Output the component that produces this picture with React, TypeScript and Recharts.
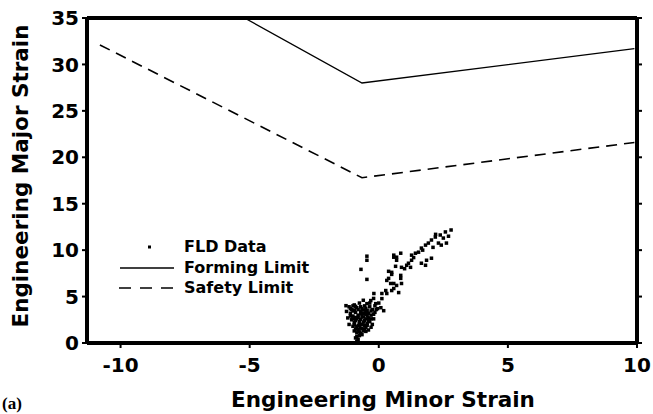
import React from 'react';
import { ScatterChart, Scatter, XAxis, YAxis, Legend } from 'recharts';

// minor strain (x) / major strain (y)
const formingLimitMinor = [-5.2, -0.65, 9.9];
const formingLimitMajor = [35, 28.0, 31.7];
const safetyLimitMinor = [-10.8, -0.65, 9.9];
const safetyLimitMajor = [32.1, 17.8, 21.6];

const fldPoints: [number, number][] = [
  // dense cluster near plane strain
  [-1.15, 3.9], [-1.05, 3.6], [-0.95, 4.1], [-0.85, 3.8], [-0.75, 4.3], [-0.65, 3.7], [-0.55, 4.0],
  [-0.45, 3.5], [-0.35, 3.9], [-0.25, 3.6], [-0.15, 3.3], [-1.1, 3.2], [-1.0, 2.9], [-0.9, 3.3],
  [-0.8, 3.0], [-0.7, 3.4], [-0.6, 2.8], [-0.5, 3.1], [-0.4, 2.7], [-0.3, 3.0], [-0.2, 2.6],
  [-1.05, 2.5], [-0.95, 2.2], [-0.85, 2.6], [-0.75, 2.3], [-0.65, 2.0], [-0.55, 2.4], [-0.45, 2.1],
  [-0.35, 2.3], [-1.0, 1.8], [-0.9, 1.5], [-0.8, 1.9], [-0.7, 1.6], [-0.6, 1.3], [-0.5, 1.7],
  [-0.4, 1.4], [-0.85, 1.1], [-0.75, 1.2], [-0.65, 0.9], [-0.85, 0.7], [-0.8, 0.4], [-0.85, 0.2],
  [-0.8, 0.0], [-1.2, 2.7], [-1.15, 2.0], [-0.25, 2.0], [-0.3, 1.7], [-0.95, 3.55], [-0.7, 3.9],
  [-0.5, 3.75], [-0.35, 4.3], [-0.15, 4.0], [-1.25, 3.4], [-0.6, 4.6], [-0.2, 4.8], [0.0, 4.3],
  [-0.05, 3.7], [-1.0, 3.45], [-0.6, 3.2], [-0.9, 2.75], [-0.55, 1.9],
  [-1.1, 3.7], [-1.0, 4.0], [-0.9, 3.95], [-0.8, 3.6], [-0.7, 3.15], [-0.6, 3.55], [-0.5, 3.4],
  [-0.4, 3.2], [-0.3, 3.45], [-0.2, 3.1], [-0.1, 3.6], [-1.1, 2.9], [-1.0, 2.6], [-0.9, 2.4],
  [-0.8, 2.75], [-0.7, 2.55], [-0.6, 2.25], [-0.5, 2.6], [-0.4, 2.45], [-0.3, 2.6], [-0.95, 1.95],
  [-0.85, 1.75], [-0.75, 1.85], [-0.65, 1.55], [-0.55, 1.5], [-0.45, 1.9], [-0.95, 1.3], [-0.7, 1.05],
  [-0.5, 1.25], [-0.8, 1.45], [-0.75, 0.8], [-0.9, 0.55], [-0.75, 2.05], [-0.65, 2.85], [-0.45, 2.95],
  // scattered outliers above the cluster
  [-0.46, 9.35], [-0.46, 8.91], [-0.69, 7.93], [-0.46, 6.85], [-1.27, 4.02], [-0.46, 4.24],
  // rising band
  [0.58, 9.46], [0.69, 9.24], [0.65, 8.26], [0.38, 7.72], [0.5, 7.39], [0.31, 6.74], [0.85, 6.96],
  [0.46, 6.41], [0.69, 6.2], [0.58, 5.87], [0.77, 5.43], [0.31, 5.33], [0.12, 4.78], [-0.19, 5.33],
  [-0.31, 4.57], [-0.12, 4.24], [0.08, 3.8], [0.19, 3.48],
  [2.58, 11.96], [2.38, 11.63], [2.19, 11.41], [2.04, 11.09], [1.92, 10.76], [1.81, 10.54],
  [1.65, 10.22], [1.54, 9.78], [1.42, 9.67], [1.27, 9.46], [1.27, 8.91], [1.15, 8.59], [1.23, 8.15],
  [1.08, 8.37], [1.65, 8.59], [1.85, 8.91], [2.04, 9.13], [2.31, 10.76], [2.62, 10.76], [2.42, 10.54],
  [1.81, 8.37], [0.85, 9.67], [0.58, 9.24], [0.69, 8.91], [0.88, 8.15], [0.5, 7.61], [0.38, 6.96],
  [0.85, 7.28], [0.58, 6.41], [0.88, 6.41], [0.27, 5.65], [0.5, 5.65], [0.12, 5.33], [2.8, 12.17],
  [2.2, 11.7], [2.5, 11.3], [1.7, 10.0], [1.0, 8.0], [1.35, 9.2], [2.1, 10.3], [2.7, 11.5],
];

const xTicks = [-10, -5, 0, 5, 10];
const yTicks = [0, 5, 10, 15, 20, 25, 30, 35];

const FONT = '"DejaVu Sans", sans-serif';

const fldData = fldPoints.map(([x, y]) => ({ x, y }));
const formingData = formingLimitMinor.map((x, i) => ({ x, y: formingLimitMajor[i] }));
const safetyData = safetyLimitMinor.map((x, i) => ({ x, y: safetyLimitMajor[i] }));

const axisLine = { stroke: '#000', strokeWidth: 4 };
const tickLine = { stroke: '#000', strokeWidth: 2 };
const tickStyle = { fill: '#000', fontSize: 20, fontWeight: 'bold', fontFamily: FONT };

const Dot = (props: any) => {
  const { cx, cy } = props;
  if (cx == null || cy == null) return <g />;
  return <rect x={cx - 1.75} y={cy - 1.75} width={3.5} height={3.5} fill="#000" />;
};

const legendItems = [
  { name: 'FLD Data', kind: 'dot' },
  { name: 'Forming Limit', kind: 'solid' },
  { name: 'Safety Limit', kind: 'dash' },
];

const LegendBox = () => (
  <div style={{ fontFamily: FONT, fontWeight: 'bold', fontSize: 16, color: '#000' }}>
    {legendItems.map(item => (
      <div key={item.name} style={{ display: 'flex', alignItems: 'center', height: 20.5 }}>
        <svg width={60} height={20} style={{ display: 'block' }}>
          {item.kind === 'dot' && <rect x={31} y={8.5} width={3} height={3} fill="#000" />}
          {item.kind === 'solid' && <line x1={3} x2={57} y1={10} y2={10} stroke="#000" strokeWidth={1.4} />}
          {item.kind === 'dash' && (
            <line x1={2} x2={57} y1={10} y2={10} stroke="#000" strokeWidth={1.4} strokeDasharray="12 9" />
          )}
        </svg>
        <span style={{ marginLeft: 7, lineHeight: '20px' }}>{item.name}</span>
      </div>
    ))}
  </div>
);

const App: React.FC = () => {
  return (
    <div style={{ position: 'absolute', left: 0, top: 0, width: 653, height: 414, background: '#fff' }}>
      <ScatterChart width={653} height={414} margin={{ top: 12, right: 6, bottom: 31, left: 27 }}>
        <XAxis
          dataKey="x"
          type="number"
          domain={[-11.3, 10]}
          ticks={xTicks}
          allowDataOverflow
          axisLine={axisLine}
          tickLine={tickLine}
          tickSize={5}
          tickMargin={10}
          tick={tickStyle}
          height={40}
        />
        <XAxis
          xAxisId="top"
          orientation="top"
          type="number"
          domain={[-11.3, 10]}
          ticks={xTicks}
          allowDataOverflow
          axisLine={axisLine}
          tickLine={tickLine}
          tickSize={5}
          tick={() => <g />}
          height={6}
        />
        <YAxis
          dataKey="y"
          type="number"
          domain={[0, 35]}
          ticks={yTicks}
          allowDataOverflow
          axisLine={axisLine}
          tickLine={tickLine}
          tickSize={5}
          tickMargin={3}
          tick={tickStyle}
          width={60}
        />
        <YAxis
          yAxisId="right"
          orientation="right"
          type="number"
          domain={[0, 35]}
          ticks={yTicks}
          allowDataOverflow
          axisLine={axisLine}
          tickLine={tickLine}
          tickSize={5}
          tick={() => <g />}
          width={10}
        />
        <Legend
          layout="vertical"
          align="center"
          verticalAlign="middle"
          wrapperStyle={{ left: 117, top: 237, width: 230 }}
          content={() => <LegendBox />}
        />
        <Scatter
          name="Forming Limit"
          data={formingData}
          line={{ stroke: '#000', strokeWidth: 1.3 }}
          shape={() => <g />}
          isAnimationActive={false}
        />
        <Scatter
          name="Safety Limit"
          data={safetyData}
          line={{ stroke: '#000', strokeWidth: 1.6, strokeDasharray: '11 7' }}
          shape={() => <g />}
          isAnimationActive={false}
        />
        <Scatter name="FLD Data" data={fldData} shape={Dot} isAnimationActive={false} />
      </ScatterChart>
      <div
        style={{
          position: 'absolute', left: -149, top: 164, width: 340, height: 24, lineHeight: '24px',
          textAlign: 'center', transform: 'rotate(-90deg)', fontFamily: FONT, fontWeight: 'bold', fontSize: 21.5,
        }}
      >
        Engineering Major Strain
      </div>
      <div
        style={{
          position: 'absolute', left: 183, top: 388, width: 400, height: 24, lineHeight: '24px',
          textAlign: 'center', fontFamily: FONT, fontWeight: 'bold', fontSize: 21.5,
        }}
      >
        Engineering Minor Strain
      </div>
      <div
        style={{
          position: 'absolute', left: 2, top: 394, fontFamily: '"Liberation Serif", serif', fontSize: 17,
          fontWeight: 'bold', lineHeight: '20px',
        }}
      >
        (a)
      </div>
    </div>
  );
};

export default App;
